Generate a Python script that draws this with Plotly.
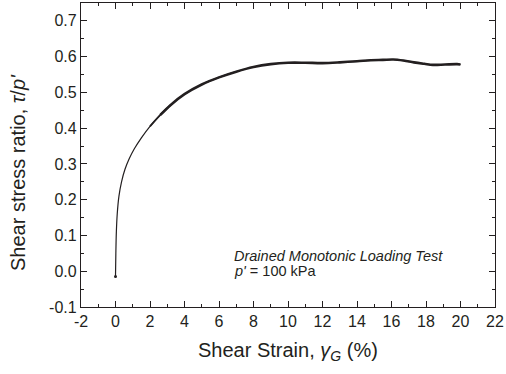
import plotly.graph_objects as go

# Data
strain = [0.0, 0.02, 0.05, 0.1, 0.2, 0.35, 0.55, 0.8, 1.1, 1.5, 2.0, 2.6, 3.2, 4.0, 5.0,
          6.0, 7.0, 8.0, 9.0, 10.0, 11.0, 12.0, 13.0, 14.0, 14.8, 15.5, 16.1, 16.7, 17.3,
          17.9, 18.4, 19.1, 19.8, 20.0]
stress_ratio = [-0.015, 0.05, 0.11, 0.16, 0.21, 0.25, 0.285, 0.315, 0.343, 0.373, 0.405,
                0.437, 0.465, 0.495, 0.522, 0.542, 0.558, 0.571, 0.579, 0.583, 0.583, 0.582,
                0.584, 0.587, 0.59, 0.591, 0.592, 0.589, 0.584, 0.58, 0.577, 0.578, 0.579,
                0.578]

x_tickvals = [-2, 0, 2, 4, 6, 8, 10, 12, 14, 16, 18, 20, 22]
x_ticktext = ["-2", "0", "2", "4", "6", "8", "10", "12", "14", "16", "18", "20", "22"]
y_tickvals = [-0.1, 0.0, 0.1, 0.2, 0.3, 0.4, 0.5, 0.6, 0.7]
y_ticktext = ["-0.1", "0.0", "0.1", "0.2", "0.3", "0.4", "0.5", "0.6", "0.7"]

INK = "#231f20"
FONT = "Arial, Liberation Sans, sans-serif"

split = 11  # index from which the measured curve becomes visibly noisy (thicker)

fig = go.Figure()
fig.add_trace(go.Scatter(x=strain, y=stress_ratio, mode="lines",
                         line=dict(color=INK, width=1.2, shape="spline"),
                         showlegend=False))
fig.add_trace(go.Scatter(x=strain[split - 1:split + 2], y=stress_ratio[split - 1:split + 2], mode="lines",
                         line=dict(color=INK, width=1.8, shape="spline"),
                         showlegend=False))
fig.add_trace(go.Scatter(x=strain[split:], y=stress_ratio[split:], mode="lines",
                         line=dict(color=INK, width=2.6, shape="spline"),
                         showlegend=False))
fig.add_trace(go.Scatter(x=strain[:1], y=stress_ratio[:1], mode="markers",
                         marker=dict(color=INK, size=3), showlegend=False))

axis_common = dict(
    showgrid=False, zeroline=False, showline=True, linecolor=INK, linewidth=1.3,
    mirror="ticks", ticks="inside", ticklen=6, tickwidth=1.2, tickcolor=INK,
    tickfont=dict(family=FONT, size=16, color=INK),
)

fig.update_xaxes(range=[-2, 22], tickmode="array", tickvals=x_tickvals, ticktext=x_ticktext,
                 minor=dict(ticks="inside", dtick=1, tick0=-2, ticklen=3, tickcolor=INK, tickwidth=1),
                 **axis_common)
fig.update_yaxes(range=[-0.1, 0.75], tickmode="array", tickvals=y_tickvals, ticktext=y_ticktext,
                 minor=dict(ticks="inside", dtick=0.05, tick0=-0.1, ticklen=3, tickcolor=INK, tickwidth=1),
                 **axis_common)

fig.add_annotation(xref="paper", yref="paper", x=-0.152, y=0.441, xanchor="center", yanchor="middle",
                   text="Shear stress ratio, <i>τ</i>/<i>p'</i>", textangle=-90, showarrow=False,
                   font=dict(family=FONT, size=20, color=INK))
fig.add_annotation(xref="paper", yref="paper", x=0.5, y=-0.148, xanchor="center", yanchor="middle",
                   text="Shear Strain, <i>γ<sub>G</sub></i> (%)", showarrow=False,
                   font=dict(family=FONT, size=20, color=INK))
fig.add_annotation(x=6.75, y=0.042, xanchor="left", yanchor="middle",
                   text="<i>Drained Monotonic Loading Test</i>", showarrow=False,
                   font=dict(family=FONT, size=14.5, color=INK))
fig.add_annotation(x=6.75, y=0.0, xanchor="left", yanchor="middle",
                   text="<i>p'</i> = 100 kPa", showarrow=False,
                   font=dict(family=FONT, size=14.5, color=INK))

fig.update_layout(
    width=506, height=374,
    margin=dict(l=81, r=11, t=3, b=67),
    plot_bgcolor="white", paper_bgcolor="white",
    font=dict(family=FONT, color=INK),
)

fig.write_html("out.html")
